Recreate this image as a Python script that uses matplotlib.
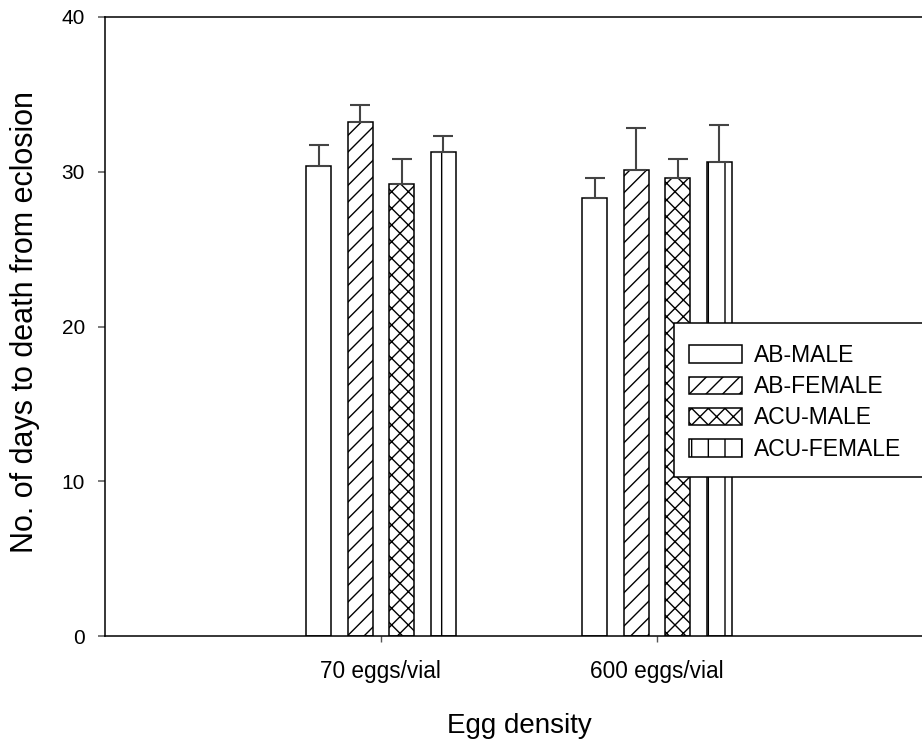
import matplotlib
matplotlib.use("Agg")
import matplotlib.pyplot as plt
from matplotlib.patches import Rectangle
import numpy as np

plt.rcParams['font.family'] = ['Liberation Sans', 'DejaVu Sans']
plt.rcParams['hatch.linewidth'] = 1.0

groups = ['70 eggs/vial', '600 eggs/vial']
series = ['AB-MALE', 'AB-FEMALE', 'ACU-MALE', 'ACU-FEMALE']
ab_male = [30.4, 28.3]
ab_male_err = [1.3, 1.3]
ab_female = [33.2, 30.1]
ab_female_err = [1.1, 2.7]
acu_male = [29.2, 29.6]
acu_male_err = [1.6, 1.2]
acu_female = [31.3, 30.6]
acu_female_err = [1.0, 2.4]

values = [ab_male, ab_female, acu_male, acu_female]
errors = [ab_male_err, ab_female_err, acu_male_err, acu_female_err]
hatches = ['', '//', 'xx', '|']

W, H = 922, 742
fig = plt.figure(figsize=(W / 100, H / 100), dpi=100)
ax = fig.add_axes([104.5 / W, (H - 636) / H, 829 / W, 619 / H])

x = np.arange(1, len(groups) + 1)
offsets = [-0.225, -0.075, 0.075, 0.225]
bw = 0.0905
handles = []
for s, vals, errs, h, off in zip(series, values, errors, hatches, offsets):
    b = ax.bar(x + off, vals, width=bw, color='white', edgecolor='black',
               linewidth=1.1, hatch=h, label=s, zorder=2)
    handles.append(b)
    ax.errorbar(x + off, vals, yerr=[np.zeros(len(errs)), errs], fmt='none',
                ecolor='#444444', elinewidth=1.5, capsize=7, capthick=1.5, zorder=3)

ax.set_xlim(0, 3)
ax.set_ylim(0, 40)
ax.set_yticks([0, 10, 20, 30, 40])
ax.set_xticks(x)
ax.set_xticklabels(groups)
ax.spines['right'].set_visible(False)
for sp in ['top', 'left', 'bottom']:
    ax.spines[sp].set_linewidth(1.1)
ax.tick_params(axis='y', direction='out', length=5, width=1.1, color='#555555',
               labelsize=15, pad=9)
ax.tick_params(axis='x', direction='out', length=4, width=1.0, color='#555555',
               labelsize=16.3, pad=13)

fig.text(25 / W, 1 - 322 / H, 'No. of days to death from eclosion', rotation=90,
         ha='center', va='center', fontsize=22)
fig.text(519 / W, 1 - 733 / H, 'Egg density', ha='center', va='baseline', fontsize=20)

# legend frame (extends beyond the right edge, as in the reference)
rect = Rectangle((674 / W, 1 - 477 / H), 300 / W, 154 / H, transform=fig.transFigure,
                 facecolor='white', edgecolor='black', linewidth=1.1, zorder=5)
fig.add_artist(rect)
leg = fig.legend(handles=handles, labels=series, loc='upper left',
                 bbox_to_anchor=(689 / W, 1 - 344 / H), frameon=False,
                 fontsize=16.5, handlelength=2.3, handleheight=0.8,
                 handletextpad=0.55, labelspacing=0.36, borderpad=0,
                 borderaxespad=0)
leg.set_zorder(10)

fig.savefig('out.png', dpi=100)
